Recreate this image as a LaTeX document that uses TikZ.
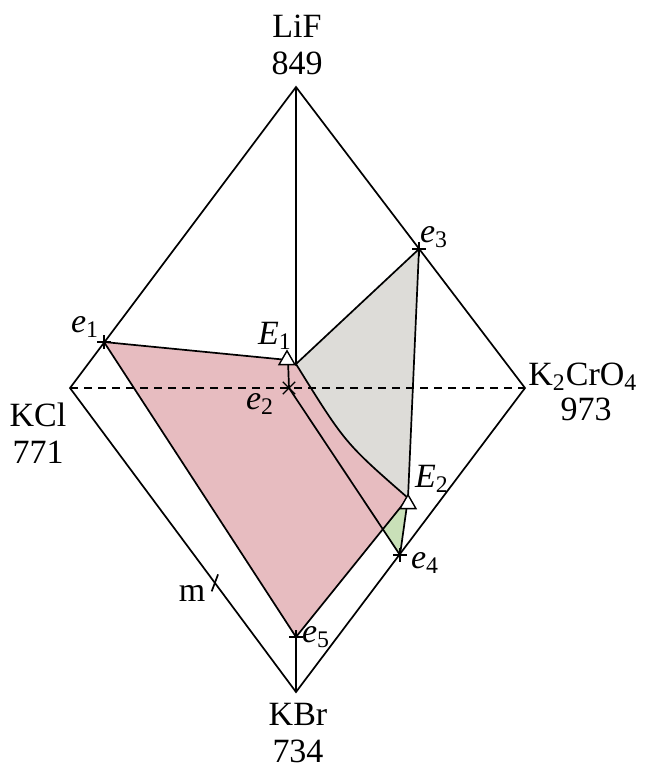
\documentclass[tikz,border=0pt]{standalone}
\usepackage{fontspec}
\setmainfont{Liberation Serif}
\usetikzlibrary{calc,intersections,shapes.geometric,shapes.misc}
\definecolor{liqpink}{RGB}{231,188,192}
\definecolor{liqgray}{RGB}{221,220,216}
\definecolor{liqgreen}{RGB}{201,224,184}
\tikzset{
  bdry/.style={line width=0.85pt, black},
  tieline/.style={line width=0.85pt, dash pattern=on 4pt off 3pt},
  eutectic/.style={draw, line width=0.7pt, fill=white, regular polygon, regular polygon sides=3, minimum size=9.2pt, inner sep=0pt},
  binplus/.style={draw, cross out, line width=0.7pt, minimum size=4.2pt, inner sep=0pt, rotate=45},
  binx/.style={draw, cross out, line width=0.7pt, minimum size=5.5pt, inner sep=0pt},
  ptlabel/.style={inner sep=0pt},
  cornerlabel/.style={align=center, inner sep=0pt}
}

\begin{document}
\begin{tikzpicture}[x=0.5pt,y=-0.5pt, font=\fontsize{17}{18.5}\selectfont]
  \useasboundingbox (0,0) rectangle (654,767);

  % corners of the square
  \coordinate (LiF) at (296,87);
  \coordinate (KCl) at (70,388);
  \coordinate (KBr) at (296,692);
  \coordinate (KCr) at (525,388);

  % binary and ternary points
  \coordinate (e1) at (104,342);
  \coordinate (e2) at (289,388);
  \coordinate (e3) at (419,249);
  \coordinate (e4) at (400,555);
  \coordinate (e5) at (296,637);
  \coordinate (E1) at (288,360);
  \coordinate (E1r) at (296,364);
  \coordinate (E2) at (408,498);
  \coordinate (m) at ($(KCl)!0.641!(KBr)$);

  \path[name path=e2e4] (e2) -- (e4);
  \path[name path=E2e5] (E2) -- (e5);
  \path[name intersections={of=e2e4 and E2e5, by=X}];

  % fields
  \fill[liqgray] (E1r) -- (e3) -- (E2) .. controls (345,443) .. (E1r) -- cycle;
  \fill[liqpink] (e1) -- (E1) -- (E1r) .. controls (345,443) .. (E2) -- (e5) -- cycle;
  \fill[liqgreen] (E2) -- (e4) -- (X) -- cycle;

  % square and diagonal
  \draw[bdry] (LiF) -- (KCl) -- (KBr) -- (KCr) -- cycle;
  \draw[tieline] (KCl) -- (KCr);

  % curves
  \draw[bdry] (LiF) -- (E1r) -- (e3) -- (E2);
  \draw[bdry] (E1r) .. controls (345,443) .. (E2);
  \draw[bdry] (e1) -- (E1);
  \draw[bdry] (e1) -- (e5) -- (E2);
  \draw[bdry] (e5) -- (KBr);
  \draw[bdry] (E1) -- (e2) -- (e4) -- (E2);
  \draw[bdry] ([shift={(-3.2,8.5)}]m) -- ([shift={(3.2,-8.5)}]m);

  % markers
  \foreach \p in {e1,e3,e4,e5}
    {\node[binplus] at (\p) {};}
  \node[binx] at (e2) {};
  \node[eutectic] (E1m) at (287,360) {};
  \node[eutectic] (E2m) at (408,504) {};

  % labels
  \node[cornerlabel] (lLiF) at (297,45) {LiF\\849};
  \node[cornerlabel] (lKCl) at (38,433) {KCl\\771};
  \node[cornerlabel] (lKBr) at (298,733) {KBr\\734};
  \node[cornerlabel, anchor=base west] (lKCr) at (528,385) {K\textsubscript{2}CrO\textsubscript{4}};
  \node[cornerlabel, anchor=base] (lKCrT) at (586,420) {973};

  \node[ptlabel] (le1) at (85,327) {\textit{e}\textsubscript{1}};
  \node[ptlabel] (le2) at (260,404) {\textit{e}\textsubscript{2}};
  \node[ptlabel] (le3) at (434,237) {\textit{e}\textsubscript{3}};
  \node[ptlabel] (le4) at (425,563) {\textit{e}\textsubscript{4}};
  \node[ptlabel] (le5) at (316,637) {\textit{e}\textsubscript{5}};
  \node[ptlabel] (lE1) at (275,336) {\textit{E}\textsubscript{1}};
  \node[ptlabel] (lE2) at (432,479) {\textit{E}\textsubscript{2}};
  \node[ptlabel] (lm) at (192,593) {m};
\end{tikzpicture}
\end{document}
